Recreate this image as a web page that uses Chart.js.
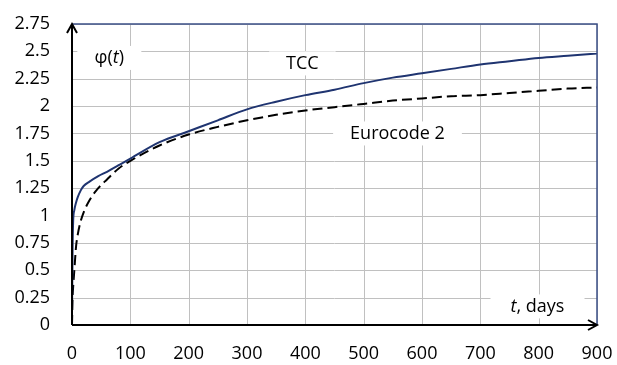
<!DOCTYPE html>
<html>
<head>
<meta charset="utf-8">
<script src="https://cdn.jsdelivr.net/npm/chart.js@4/dist/chart.umd.min.js"></script>
<style>
  html, body { margin: 0; padding: 0; background: #fff; }
  #wrap { width: 617px; height: 365px; position: relative; }
</style>
</head>
<body>
<div id="wrap"><canvas id="creep-chart"></canvas></div>
<script>
// time, days
const tDays = [0, 1, 2, 4, 7, 10, 15, 20, 30, 45, 60, 80, 100, 150, 200, 250, 300, 350, 400, 450, 500, 550, 600, 650, 700, 750, 800, 850, 900];
// creep coefficient phi(t)
const tccValues = [0.12, 0.70, 0.95, 1.05, 1.12, 1.17, 1.23, 1.27, 1.31, 1.36, 1.40, 1.46, 1.52, 1.67, 1.77, 1.87, 1.97, 2.04, 2.10, 2.15, 2.21, 2.26, 2.30, 2.34, 2.38, 2.41, 2.44, 2.46, 2.48];
const ec2Values = [0.00, 0.25, 0.35, 0.50, 0.72, 0.83, 0.95, 1.03, 1.14, 1.25, 1.33, 1.43, 1.50, 1.64, 1.74, 1.81, 1.87, 1.92, 1.96, 1.99, 2.02, 2.05, 2.07, 2.09, 2.10, 2.12, 2.14, 2.16, 2.17];

// plain labels on the plot
const notes = [
  { text: 'TCC', x: 395, y: 2.39 },
  { text: 'Eurocode 2', x: 558, y: 1.75 },
];

const FONT = '"Open Sans", Lato, sans-serif';

const toPoints = (xs, ys) => xs.map((x, i) => ({ x: x, y: ys[i] }));

// keep the plot box where the reference has it
const noPad = (scale) => {
  scale.paddingTop = 0;
  scale.paddingBottom = 0;
  scale.paddingLeft = 0;
  scale.paddingRight = 0;
};

// light grid from the scale ticks (drawn under the lines)
const gridPlugin = {
  id: 'gridPlugin',
  beforeDatasetsDraw: (chart) => {
    const { ctx, chartArea: { left, right, top, bottom } } = chart;
    const xs = chart.scales.x;
    const ys = chart.scales.y;
    ctx.save();
    ctx.strokeStyle = '#c0c0c0';
    ctx.lineWidth = 1;
    ctx.beginPath();
    xs.ticks.forEach(t => {
      const px = Math.round(xs.getPixelForValue(t.value)) + 0.5;
      ctx.moveTo(px, top);
      ctx.lineTo(px, bottom);
    });
    ys.ticks.forEach(t => {
      const py = Math.round(ys.getPixelForValue(t.value)) + 0.5;
      ctx.moveTo(left, py);
      ctx.lineTo(right, py);
    });
    ctx.stroke();
    ctx.restore();
  }
};

// frame, arrows, text boxes
const decorPlugin = {
  id: 'decorPlugin',
  afterDatasetsDraw: (chart) => {
    const { ctx, chartArea: { left, right, top, bottom } } = chart;
    const xs = chart.scales.x;
    const ys = chart.scales.y;
    ctx.save();

    // blue frame top + right
    ctx.strokeStyle = '#3b4f86';
    ctx.lineWidth = 1.5;
    ctx.beginPath();
    ctx.moveTo(left, top);
    ctx.lineTo(right, top);
    ctx.lineTo(right, bottom);
    ctx.stroke();

    // black axes with arrows
    ctx.strokeStyle = '#000';
    ctx.lineWidth = 2;
    ctx.beginPath();
    ctx.moveTo(left, bottom);
    ctx.lineTo(left, top);
    ctx.moveTo(left, bottom);
    ctx.lineTo(right, bottom);
    ctx.moveTo(left - 5, top + 9);
    ctx.lineTo(left, top);
    ctx.lineTo(left + 5, top + 9);
    ctx.moveTo(right - 9, bottom - 5);
    ctx.lineTo(right, bottom);
    ctx.lineTo(right - 9, bottom + 5);
    ctx.stroke();

    ctx.textBaseline = 'middle';

    const box = (cx, cy, w) => {
      ctx.fillStyle = '#fff';
      ctx.fillRect(cx - w / 2, cy - 12, w, 24);
      ctx.fillStyle = '#000';
    };

    // draws runs of [text, italic] centred on cx
    const runs = (parts, cx, cy) => {
      ctx.textAlign = 'left';
      let total = 0;
      const widths = parts.map(p => {
        ctx.font = (p[1] ? 'italic ' : '') + '18px ' + FONT;
        const w = ctx.measureText(p[0]).width;
        total += w;
        return w;
      });
      let sx = cx - total / 2;
      parts.forEach((p, i) => {
        ctx.font = (p[1] ? 'italic ' : '') + '18px ' + FONT;
        ctx.fillText(p[0], sx, cy);
        sx += widths[i];
      });
    };

    notes.forEach(n => {
      const cx = xs.getPixelForValue(n.x);
      const cy = ys.getPixelForValue(n.y);
      ctx.font = '18px ' + FONT;
      const w = ctx.measureText(n.text).width + 34;
      box(cx, cy, w);
      runs([[n.text, false]], cx, cy);
    });

    // phi(t)
    let cx = xs.getPixelForValue(64);
    let cy = ys.getPixelForValue(2.44);
    box(cx, cy, 64);
    runs([['\u03C6(', false], ['t', true], [')', false]], cx, cy);

    // t, days
    cx = xs.getPixelForValue(798);
    cy = ys.getPixelForValue(0.17);
    box(cx, cy, 94);
    runs([['t', true], [', days', false]], cx, cy);

    ctx.restore();
  }
};

const ctx = document.getElementById('creep-chart').getContext('2d');

new Chart(ctx, {
  type: 'line',
  data: {
    datasets: [
      {
        label: 'TCC',
        data: toPoints(tDays, tccValues),
        borderColor: '#1f3470',
        borderWidth: 2,
        pointRadius: 0,
        fill: false,
        cubicInterpolationMode: 'monotone',
      },
      {
        label: 'Eurocode 2',
        data: toPoints(tDays, ec2Values),
        borderColor: '#000',
        borderWidth: 2,
        borderDash: [10, 5],
        pointRadius: 0,
        fill: false,
        cubicInterpolationMode: 'monotone',
      }
    ]
  },
  options: {
    responsive: true,
    maintainAspectRatio: false,
    animation: false,
    layout: {
      padding: { top: 24, right: 20, left: 0, bottom: 0 }
    },
    plugins: {
      legend: { display: false },
      tooltip: { enabled: false },
    },
    scales: {
      x: {
        type: 'linear',
        min: 0,
        max: 900,
        ticks: {
          stepSize: 100,
          padding: 10,
          color: '#000',
          font: { family: FONT, size: 18 },
          maxRotation: 0,
        },
        grid: { display: false },
        border: { display: false },
        afterFit: (scale) => { scale.height = 40; noPad(scale); },
      },
      y: {
        type: 'linear',
        min: 0,
        max: 2.75,
        ticks: {
          stepSize: 0.25,
          padding: 14,
          color: '#000',
          font: { family: FONT, size: 18 },
          callback: (v) => String(Math.round(v * 100) / 100),
        },
        grid: { display: false },
        border: { display: false },
        afterFit: (scale) => { scale.width = 72; noPad(scale); },
      }
    }
  },
  plugins: [gridPlugin, decorPlugin]
});
</script>
</body>
</html>
